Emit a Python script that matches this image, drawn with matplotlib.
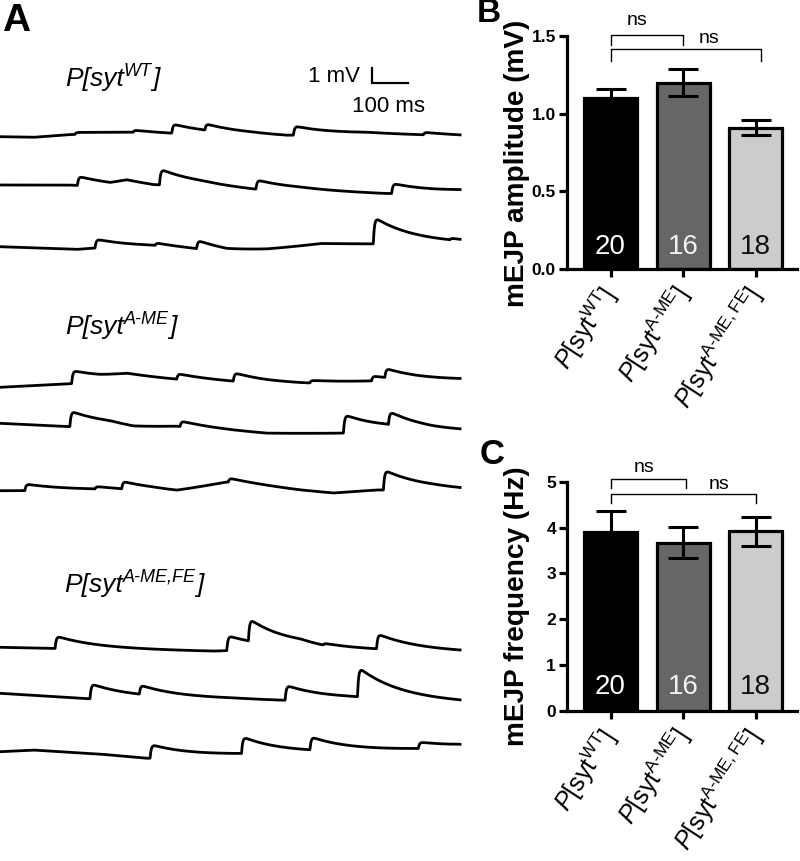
import numpy as np
import matplotlib
matplotlib.use("Agg")
import matplotlib.pyplot as plt

plt.rcParams['font.family'] = ['Liberation Sans', 'DejaVu Sans']
plt.rcParams['mathtext.fontset'] = 'custom'
plt.rcParams['mathtext.rm'] = 'Liberation Sans'
plt.rcParams['mathtext.it'] = 'Liberation Sans:italic'
plt.rcParams['mathtext.bf'] = 'Liberation Sans:bold'

# ---------------- data ----------------
genotypes = ['WT', 'A-ME', 'A-ME,FE']
n_cells = [20, 16, 18]
amp_mean = [1.10, 1.20, 0.91]      # mV
amp_sem = [0.06, 0.085, 0.05]
freq_mean = [3.90, 3.67, 3.92]     # Hz
freq_sem = [0.46, 0.34, 0.32]
bar_colors = ['#000000', '#666666', '#cccccc']
n_colors = ['#ffffff', '#f2f2f2', '#111111']

# example traces (time ms, mV): slow baseline drift knots + mEJP events (onset ms, amplitude mV)
wt_drift_t = [[0, 93, 185, 278, 370, 463, 694, 796, 926, 1019, 1157, 1278],
              [0, 185, 306, 352, 426, 556, 704, 833, 926, 1074, 1204, 1278],
              [0, 213, 259, 426, 537, 630, 741, 833, 889, 1028, 1278]]
wt_drift_v = [[0, -0.04, 0.13, 0.22, 0.27, 0.18, 0.09, 0, 0.11, 0.18, 0.11, 0.04],
              [0, 0, -0.11, 0.16, -0.07, -0.11, -0.38, -0.38, -0.47, -0.6, -0.51, -0.44],
              [0, -0.18, -0.09, -0.04, -0.22, -0.44, -0.27, 0, 0.18, 0.18, 0.18]]
wt_events = [[(208, 0.12), (370, 0.12), (477, 0.55), (569, 0.38), (815, 0.55), (1176, 0.15)],
             [(215, 0.55), (443, 0.95), (711, 0.55), (1088, 0.6)],
             [(264, 0.53), (431, 0.15), (546, 0.5), (1037, 1.6), (1250, 0.1)]]

ame_drift_t = [[0, 185, 278, 352, 481, 639, 741, 852, 1028, 1157, 1278],
               [0, 185, 306, 370, 491, 648, 741, 944, 1074, 1204, 1278],
               [0, 65, 259, 333, 417, 491, 630, 833, 926, 1046, 1204, 1278]]
ame_drift_v = [[0, 0.22, 0.42, 0.71, 0.49, 0.31, 0.22, 0.18, 0.36, 0.38, 0.44],
               [0, -0.22, -0.22, -0.4, -0.27, -0.56, -0.71, -0.67, -0.49, -0.6, -0.6],
               [0, 0, 0.04, 0, -0.04, -0.13, 0.53, 0, -0.18, 0.04, 0.04, 0]]
ame_events = [[(199, 0.78), (491, 0.33), (648, 0.5), (861, 0.15), (1032, 0.3), (1069, 0.55)],
              [(194, 0.93), (500, 0.33), (954, 1.1), (1079, 0.78)],
              [(69, 0.4), (264, 0.15), (338, 0.45), (634, 0.25), (1065, 1.2)]]

fe_drift_t = [[0, 139, 593, 833, 889, 1037, 1278],
              [0, 241, 380, 648, 787, 981, 1278],
              [0, 93, 278, 407, 667, 852, 1157, 1278]]
fe_drift_v = [[0, -0.07, -0.27, -0.04, -0.18, -0.22, -0.33],
              [0, -0.36, -0.36, -0.4, -0.49, -0.4, -0.62],
              [0, 0.11, -0.16, -0.44, -0.22, -0.11, 0.13, 0.31]]
fe_events = [[(153, 0.75), (630, 0.9), (690, 1.33), (898, 0.1), (1046, 0.9)],
             [(250, 0.9), (387, 0.55), (792, 0.9), (993, 1.78)],
             [(417, 0.82), (671, 1.0), (861, 0.78), (1162, 0.38)]]

# ---------------- layout helpers ----------------
W, H = 800, 861
fig = plt.figure(figsize=(W / 100, H / 100), dpi=100)
renderer = fig.canvas.get_renderer()


def fx(x):
    return x / W


def fy(y):
    return 1 - y / H


PX_PER_MS = 0.36
PX_PER_MV = 15.0

# ---------------- panel A ----------------
axA = fig.add_axes([0, 0, 462 / W, 1])
axA.set_xlim(0, 462 / PX_PER_MS)
axA.set_ylim(-H / PX_PER_MV, 0)
axA.axis('off')

t = np.linspace(0, 1278, 3000)
tau_r, tau_d = 3.0, 115.0
tp = tau_r * tau_d / (tau_d - tau_r) * np.log(tau_d / tau_r)
kpeak = np.exp(-tp / tau_d) - np.exp(-tp / tau_r)


def trace(dt_knots, dv_knots, events):
    v = np.interp(t, dt_knots, dv_knots)
    for t0, a in events:
        d = np.clip(t - t0, 0, None)
        v = v + a * (np.exp(-d / tau_d) - np.exp(-d / tau_r)) / kpeak
    return v


row_px = [[136.7, 185, 246.7], [387.3, 423.3, 490.7], [647.3, 693.3, 751.7]]
groups = [(wt_drift_t, wt_drift_v, wt_events),
          (ame_drift_t, ame_drift_v, ame_events),
          (fe_drift_t, fe_drift_v, fe_events)]
for rows, (dts, dvs, evs) in zip(row_px, groups):
    for r, dtk, dvk, ev in zip(rows, dts, dvs, evs):
        axA.plot(t, -r / PX_PER_MV + trace(dtk, dvk, ev), color='black', lw=2.0,
                 solid_joinstyle='round')


def sup(g):
    return g.replace('-', r'\text{-}')


def italic_label(x, y, g):
    """P[syt^g] in italics, composed from pieces; (x, y) = left, baseline in px."""
    t1 = fig.text(fx(x), fy(y), 'P[syt', fontsize=19, style='italic', ha='left', va='baseline')
    bb = t1.get_window_extent(renderer)
    t2 = fig.text(bb.x1 / W, fy(y - 10), g, fontsize=13, style='italic', ha='left', va='baseline')
    bb2 = t2.get_window_extent(renderer)
    fig.text(bb2.x1 / W, fy(y), ']', fontsize=19, style='italic', ha='left', va='baseline')


label_pos = [(65, 86), (65, 334), (64, 592)]
for g, (x, y) in zip(genotypes, label_pos):
    italic_label(x, y, g)

# scale bar
sb_x = 372 / PX_PER_MS
sb_y = -83 / PX_PER_MV
axA.plot([sb_x, sb_x, sb_x + 100], [sb_y + 1, sb_y, sb_y], color='black', lw=1.6,
         solid_joinstyle='miter')
fig.text(fx(360), fy(76), '1 mV', fontsize=16, ha='right', va='center')
fig.text(fx(388), fy(106), '100 ms', fontsize=16, ha='center', va='center')

fig.text(fx(2), fy(21), 'A', fontsize=28, fontweight='bold', ha='left', va='center')
fig.text(fx(477), fy(14), 'B', fontsize=24, fontweight='bold', ha='left', va='center')
fig.text(fx(480), fy(455), 'C', fontsize=25, fontweight='bold', ha='left', va='center')

# ---------------- bar panels ----------------
xlabels = [r'$\mathit{P}\mathrm{[syt}^{\mathrm{' + sup(g) + r'}}\mathrm{]}$' for g in genotypes]


def bar_panel(rect, means, sems, ymax, yticks, fmt, ylabel, ylabel_xy, n_y, brackets, ns_pos):
    ax = fig.add_axes(rect)
    x = np.arange(len(means))
    ax.bar(x, means, width=0.73, color=bar_colors, edgecolor='black', linewidth=2.3, zorder=2)
    ax.errorbar(x, means, yerr=sems, fmt='none', ecolor='black', elinewidth=2.2,
                capsize=11, capthick=2.2, zorder=3)
    for i, n in enumerate(n_cells):
        ax.text(i, n_y, str(n), ha='center', va='center', fontsize=20, color=n_colors[i], zorder=4)
    ax.set_xlim(-0.6, 2.57)
    ax.set_ylim(0, ymax)
    for s in ['top', 'right']:
        ax.spines[s].set_visible(False)
    for s in ['left', 'bottom']:
        ax.spines[s].set_linewidth(2.3)
    ax.set_yticks(yticks)
    ax.set_yticklabels([fmt.format(v) for v in yticks], fontweight='bold', fontsize=12.5)
    ax.set_xticks(x)
    ax.set_xticklabels(xlabels, rotation=57, rotation_mode='anchor', ha='right', va='center',
                       fontsize=18)
    ax.tick_params(axis='both', direction='out', length=6, width=2.3)
    ax.tick_params(axis='x', pad=9)
    ax.tick_params(axis='y', pad=2)
    for (x0, x1, yt, yl) in brackets:
        ax.plot([x0, x0, x1, x1], [yl, yt, yt, yl], color='black', lw=1.0, clip_on=False)
    for (xn, yn) in ns_pos:
        ax.text(xn, yn, 'ns', ha='center', va='center', fontsize=14)
    fig.text(fx(ylabel_xy[0]), fy(ylabel_xy[1]), ylabel, rotation=90, ha='center', va='center',
             fontsize=20.2, fontweight='bold')
    return ax


bar_panel([fx(567), fy(269), 230 / W, 233 / H], amp_mean, amp_sem, 1.5,
          [0.0, 0.5, 1.0, 1.5], '{:.1f}', 'mEJP amplitude (mV)', (517, 163), 0.14,
          [(0, 1.0, 1.506, 1.442), (0, 2.07, 1.416, 1.339)], [(0.36, 1.60), (1.36, 1.487)])

bar_panel([fx(567), fy(711), 230 / W, 229.3 / H], freq_mean, freq_sem, 5,
          [0, 1, 2, 3, 4, 5], '{:d}', 'mEJP frequency (Hz)', (517, 606), 0.52,
          [(0, 1.04, 5.05, 4.86), (0, 2.0, 4.73, 4.54)], [(0.46, 5.32), (1.49, 4.93)])

fig.savefig('out.png', dpi=100)
